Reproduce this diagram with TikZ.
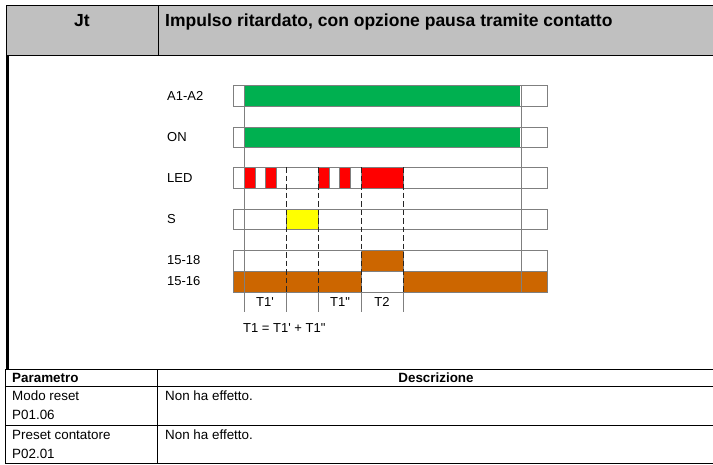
\documentclass[tikz,border=0pt]{standalone}
\usepackage{fontspec}
\setmainfont{Liberation Sans}[Ligatures=TeXOff]
\definecolor{hdrgray}{HTML}{C0C0C0}
\definecolor{sgreen}{HTML}{00B050}
\definecolor{sred}{HTML}{FF0000}
\definecolor{syellow}{HTML}{FFFF00}
\definecolor{sbrown}{HTML}{CC6600}
\definecolor{edge}{HTML}{7F7F7F}
\begin{document}
\begin{tikzpicture}[x=1pt,y=-1pt,
  rule/.style={line width=0.9pt, black},
  hdr/.style={font=\fontsize{17.5}{20}\selectfont\bfseries, inner sep=0, anchor=base},
  tbl/.style={font=\fontsize{13.4}{15}\selectfont, inner sep=0, anchor=base west},
  tblb/.style={font=\fontsize{13.4}{15}\selectfont\bfseries, inner sep=0, anchor=base west},
  lbl/.style={font=\fontsize{13}{15}\selectfont, inner sep=0, anchor=west},
  tlbl/.style={font=\fontsize{13}{15}\selectfont, inner sep=0},
  barbox/.style={draw=edge, line width=0.8pt},
  seg/.style={draw=edge, line width=0.6pt},
  vline/.style={draw=edge, line width=0.9pt},
  dline/.style={draw=black!85, line width=1pt, dash pattern=on 5.5pt off 3pt}]
\useasboundingbox (0,0) rectangle (713,464);
% ---------- header row ----------
\fill[hdrgray] (6,5) rectangle (715,55);
\draw[rule] (715,5) -- (6,5) -- (6,55) -- (715,55);
\draw[rule] (158,5) -- (158,55);
\node[hdr] (jt) at (82,26.5) {Jt};
\node[hdr, anchor=base west] (title) at (165,26.5) {Impulso ritardato, con opzione pausa tramite contatto};
% ---------- body left border ----------
\draw[line width=2.6pt] (7.3,55) -- (7.3,369);
% ---------- timing diagram ----------
% A1-A2
\fill[sgreen] (244,85) rectangle (520,106);
\draw[barbox] (233,85) rectangle (547,106);
% ON
\fill[sgreen] (244,127) rectangle (520,147);
\draw[barbox] (233,127) rectangle (547,147);
% LED
\foreach \a/\b in {244/255, 265/276, 318/329, 339/350, 361/403}
  \filldraw[fill=sred, seg] (\a,167) rectangle (\b,188);
\draw[barbox] (233,167) rectangle (547,188);
% S
\filldraw[fill=syellow, seg] (286,209) rectangle (318,229);
\draw[barbox] (233,209) rectangle (547,229);
% 15-18
\filldraw[fill=sbrown, seg] (361,250) rectangle (403,271);
\draw[barbox] (233,250) rectangle (547,271);
% 15-16
\filldraw[fill=sbrown, seg] (233,271) rectangle (361,292);
\filldraw[fill=sbrown, seg] (403,271) rectangle (547,292);
\draw[barbox] (233,271) rectangle (547,292);
% vertical lines
\draw[vline] (244,85) -- (244,312);
\draw[vline] (521,85) -- (521,292);
\foreach \x in {286,318,361,403} {
  \draw[dline] (\x,167) -- (\x,292);
  \draw[vline] (\x,292) -- (\x,312);
}
% labels
\node[lbl] (la) at (167,96) {A1-A2};
\node[lbl] (lon) at (167,137.5) {ON};
\node[lbl] (lled) at (167,178.5) {LED};
\node[lbl] (ls) at (167,219.5) {S};
\node[lbl] (l1518) at (167,260.5) {15-18};
\node[lbl] (l1516) at (167,281.5) {15-16};
\node[tlbl] (t1a) at (265,302) {T1'};
\node[tlbl] (t1b) at (340,302) {T1"};
\node[tlbl] (t2) at (382,302) {T2};
\node[tlbl, anchor=west] (teq) at (243,328) {T1 = T1' + T1"};
% ---------- parameter table ----------
\draw[rule] (5,369) -- (715,369);
\draw[rule] (5,386) -- (715,386);
\draw[rule] (5,425) -- (715,425);
\draw[rule] (5,463) -- (715,463);
\draw[rule] (5,369) -- (5,463);
\draw[rule] (157,369) -- (157,463);
\node[tblb] (par) at (12,382.5) {Parametro};
\node[tblb, anchor=base] (desc) at (436,382.5) {Descrizione};
\node[tbl] (m1) at (12,400) {Modo reset};
\node[tbl] (m2) at (12,419.5) {P01.06};
\node[tbl] (m3) at (165,400) {Non ha effetto.};
\node[tbl] (p1) at (12,439) {Preset contatore};
\node[tbl] (p2) at (12,458.5) {P02.01};
\node[tbl] (p3) at (165,439) {Non ha effetto.};
\end{tikzpicture}
\end{document}
